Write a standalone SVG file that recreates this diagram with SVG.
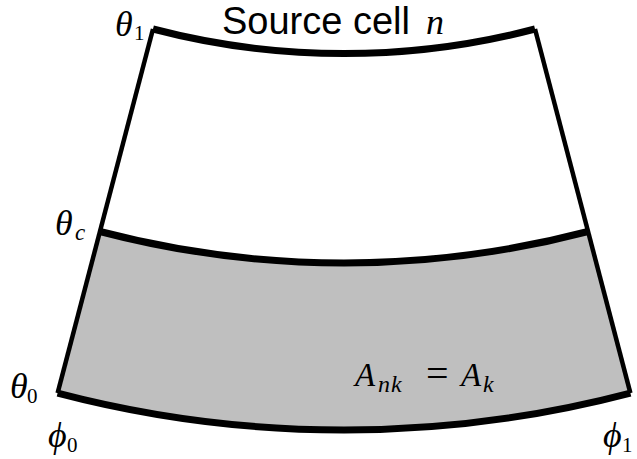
<svg xmlns="http://www.w3.org/2000/svg" width="637" height="459" viewBox="0 0 637 459">
<style>
.arc{fill:none;stroke:#000;stroke-width:7}
.side{fill:none;stroke:#000;stroke-width:4.5}
.sans{font-family:"Liberation Sans",Arial,sans-serif;fill:#000}
.m{font-family:"Liberation Serif","Times New Roman",serif;font-style:italic;fill:#000}
.r{font-family:"Liberation Serif","Times New Roman",serif;fill:#000}
</style>
<rect width="637" height="459" fill="#fff"/>
<g id="region-k">
<path d="M99.9,231.5 A963,963 0 0 0 588.1,231.5 L630.4,393.1 A1130,1130 0 0 1 57.6,393.1 Z" fill="#bfbfbf"/>
</g>
<g id="edges">
<path class="side" d="M153,29 L57.6,393.1"/>
<path class="side" d="M535,29 L630.4,393.1"/>
<path class="arc" d="M153,29 A754,754 0 0 0 535,29"/>
<path class="arc" d="M99.9,231.5 A963,963 0 0 0 588.1,231.5"/>
<path class="arc" d="M57.6,393.1 A1130,1130 0 0 0 630.4,393.1"/>
</g>
<g id="title">
<text class="sans" x="222" y="34" font-size="38">Source cell</text>
<text class="m" x="426" y="34" font-size="36">n</text>
</g>
<g id="label-theta1">
<text class="m" x="115" y="36" font-size="36">θ</text>
<text class="r" x="134" y="40" font-size="21">1</text>
</g>
<g id="label-thetac">
<text class="m" x="55" y="235" font-size="36">θ</text>
<text class="m" x="75" y="240" font-size="23">c</text>
</g>
<g id="label-theta0">
<text class="m" x="10" y="398" font-size="36">θ</text>
<text class="r" x="27" y="403" font-size="21">0</text>
</g>
<g id="label-phi0">
<text class="m" x="48" y="447" font-size="36">ϕ</text>
<text class="r" x="67" y="452" font-size="21">0</text>
</g>
<g id="label-phi1">
<text class="m" x="603" y="447" font-size="36">ϕ</text>
<text class="r" x="622" y="452" font-size="21">1</text>
</g>
<g id="label-area">
<text class="m" x="355" y="386" font-size="33">A</text>
<text class="m" x="378" y="392" font-size="24" letter-spacing="1">nk</text>
<text class="r" x="426" y="387" font-size="40">=</text>
<text class="m" x="461" y="386" font-size="33">A</text>
<text class="m" x="483" y="392" font-size="24">k</text>
</g>
</svg>
